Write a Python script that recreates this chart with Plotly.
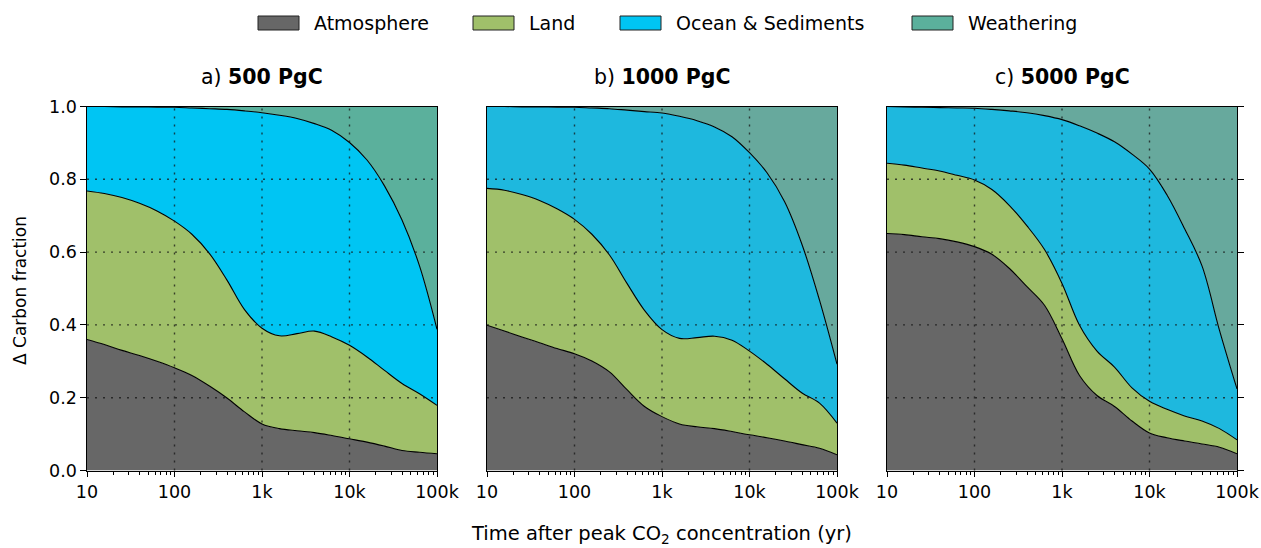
import math
import plotly.graph_objects as go

# ---------------- data ----------------
time_yr = [10, 15.8, 25.1, 39.8, 63.1, 100, 158, 251, 398, 631, 1000, 1585, 2512, 3981,
           6310, 10000, 15849, 25119, 39811, 63096, 100000]

# cumulative boundaries (fraction of emitted carbon): top of atmosphere, of land, of ocean & sediments
a_atm   = [.360, .346, .330, .316, .300, .282, .261, .232, .199, .161, .128, .115, .109, .104, .096, .087, .078, .067, .055, .050, .046]
a_land  = [.768, .761, .750, .734, .713, .685, .649, .596, .523, .442, .391, .370, .376, .383, .367, .344, .312, .275, .239, .211, .179]
a_ocean = [1.00, 1.00, .999, .999, .998, .998, .996, .994, .992, .988, .983, .976, .967, .953, .934, .901, .853, .782, .688, .562, .388]

b_atm   = [.399, .383, .367, .351, .335, .321, .301, .271, .222, .176, .148, .128, .120, .115, .107, .098, .090, .081, .071, .061, .043]
b_land  = [.775, .770, .758, .742, .719, .690, .649, .592, .514, .440, .387, .363, .365, .369, .358, .328, .292, .252, .213, .185, .130]
b_ocean = [1.00, 1.00, .999, .999, .998, .998, .996, .994, .990, .986, .982, .973, .961, .944, .917, .873, .818, .739, .621, .468, .292]

c_atm   = [.651, .648, .642, .637, .628, .615, .594, .555, .505, .454, .362, .261, .206, .176, .136, .103, .090, .081, .073, .064, .046]
c_land  = [.844, .839, .831, .823, .811, .798, .772, .728, .672, .607, .514, .399, .328, .284, .227, .190, .168, .150, .136, .115, .084]
c_ocean = [1.00, .999, .998, .997, .996, .995, .992, .988, .983, .975, .964, .947, .927, .903, .869, .828, .757, .665, .562, .385, .224]

total = [1.0] * len(time_yr)   # the four reservoirs add up to the whole pulse

panel_titles = ["a) <b>500 PgC</b>", "b) <b>1000 PgC</b>", "c) <b>5000 PgC</b>"]
legend_names = ["Atmosphere", "Land", "Ocean & Sediments", "Weathering"]
x_tickvals = [10, 100, 1000, 10000, 100000]
x_ticktext = ["10", "100", "1k", "10k", "100k"]
y_tickvals = [0.0, 0.2, 0.4, 0.6, 0.8, 1.0]
grid_x = [100, 1000, 10000]
grid_y = [0.2, 0.4, 0.6, 0.8]
x_min, x_max = 10, 100000

# ---------------- styles ----------------
FONT = "DejaVu Sans"
atm_col = "#676767"
land_col = "#A0C06A"
ocean_cols = ["#00C5F3", "#1EB8DE", "#1EB8DE"]
weath_cols = ["#5BB09C", "#67A99D", "#67A99D"]
W, H = 1261, 548

panels = [(a_atm, a_land, a_ocean), (b_atm, b_land, b_ocean), (c_atm, c_land, c_ocean)]
x_px = [(87, 437), (487, 837), (887, 1237)]
y_dom = [1 - 470.5 / H, 1 - 106.5 / H]

fig = go.Figure()
line = dict(color="black", width=1.1, shape="spline", smoothing=1.0)

for i, (atm, land, ocean) in enumerate(panels):
    xa = "x" if i == 0 else f"x{i+1}"
    ya = "y" if i == 0 else f"y{i+1}"
    fig.add_trace(go.Scatter(x=time_yr, y=atm, mode="lines", line=line, fill="tozeroy",
                             fillcolor=atm_col, name=legend_names[0], xaxis=xa, yaxis=ya,
                             showlegend=False))
    fig.add_trace(go.Scatter(x=time_yr, y=land, mode="lines", line=line, fill="tonexty",
                             fillcolor=land_col, name=legend_names[1], xaxis=xa, yaxis=ya,
                             showlegend=False))
    fig.add_trace(go.Scatter(x=time_yr, y=ocean, mode="lines", line=line, fill="tonexty",
                             fillcolor=ocean_cols[i], name=legend_names[2], xaxis=xa, yaxis=ya,
                             showlegend=False))
    fig.add_trace(go.Scatter(x=time_yr, y=total, mode="lines", line=dict(width=0), fill="tonexty",
                             fillcolor=weath_cols[i], name=legend_names[3], xaxis=xa, yaxis=ya,
                             showlegend=False))

minor_vals = [m * 10 ** k for k in range(1, 5) for m in range(2, 10)]
TICKFONT = dict(family=FONT, size=17.5, color="black")
lo, hi = math.log10(x_min), math.log10(x_max)

for i in range(3):
    sfx = "" if i == 0 else str(i + 1)
    x0, x1 = x_px[i]
    xaxis = dict(type="log", range=[lo, hi], domain=[x0 / W, x1 / W], anchor="y" + sfx,
                 tickvals=x_tickvals, ticktext=x_ticktext, ticks="outside", ticklen=5.5,
                 tickwidth=1.2, tickcolor="black", showline=True, linecolor="black",
                 linewidth=1.2, mirror=True, showgrid=False, zeroline=False,
                 tickfont=TICKFONT,
                 minor=dict(tickvals=minor_vals, ticks="outside", ticklen=3,
                            tickwidth=0.9, tickcolor="black", showgrid=False),
                 fixedrange=True)
    yaxis = dict(range=[0, 1], domain=y_dom, anchor="x" + sfx, tickvals=y_tickvals,
                 showline=True, linecolor="black", linewidth=1.2, mirror=True,
                 showgrid=False, zeroline=False, tickcolor="black", tickwidth=1.2,
                 ticklen=5.5, tickfont=TICKFONT, fixedrange=True)
    if i == 0:
        yaxis.update(ticks="outside", tickformat=".1f", showticklabels=True)
    elif i == 1:
        yaxis.update(ticks="", showticklabels=False)
    else:
        yaxis.update(ticks="outside", side="right", showticklabels=False)
    fig.update_layout({"xaxis" + sfx: xaxis, "yaxis" + sfx: yaxis})

    # dotted grid drawn above the filled areas
    grid = dict(color="rgba(20,20,20,0.75)", width=1.4, dash="2px,6px")
    for gx in grid_x:
        fx = (math.log10(gx) - lo) / (hi - lo)
        fig.add_shape(type="line", xref=f"x{sfx} domain", yref=f"y{sfx} domain",
                      x0=fx, x1=fx, y0=0, y1=1, line=grid, layer="above")
    for gy in grid_y:
        fig.add_shape(type="line", xref=f"x{sfx} domain", yref="y" + sfx,
                      x0=0, x1=1, y0=gy, y1=gy, line=grid, layer="above")

    fig.add_annotation(text=panel_titles[i], xref="paper", yref="paper",
                       x=(x0 + x1) / 2 / W, y=1 - 77 / H, xanchor="center", yanchor="middle",
                       showarrow=False, font=dict(family=FONT, size=20.5, color="black"))

# legend (patches + labels laid out like the reference)
legend_cols = [atm_col, land_col, ocean_cols[0], weath_cols[0]]
legend_box_x = [258, 473, 620, 912]
for name, col, bx in zip(legend_names, legend_cols, legend_box_x):
    fig.add_shape(type="rect", xref="paper", yref="paper", x0=bx / W, x1=(bx + 41) / W,
                  y0=1 - 30 / H, y1=1 - 16 / H, fillcolor=col,
                  line=dict(color="#222222", width=1))
    fig.add_annotation(text=name, xref="paper", yref="paper", x=(bx + 54) / W, y=1 - 23 / H,
                       xanchor="left", yanchor="middle", showarrow=False,
                       font=dict(family=FONT, size=19, color="black"))

# axis titles
fig.add_annotation(text="Δ Carbon fraction", xref="paper", yref="paper", x=20 / W,
                   y=1 - 291 / H, textangle=-90, xanchor="center", yanchor="middle",
                   showarrow=False, font=dict(family=FONT, size=17, color="black"))
fig.add_annotation(text="Time after peak CO<sub>2</sub> concentration (yr)", xref="paper",
                   yref="paper", x=661 / W, y=1 - 534 / H, xanchor="center", yanchor="middle",
                   showarrow=False, font=dict(family=FONT, size=19.5, color="black"))

fig.update_layout(width=W, height=H, margin=dict(l=0, r=0, t=0, b=0, autoexpand=False),
                  paper_bgcolor="white", plot_bgcolor="white", showlegend=False,
                  font=dict(family=FONT, color="black"))

fig.write_html("out.html", config={"displayModeBar": False})
